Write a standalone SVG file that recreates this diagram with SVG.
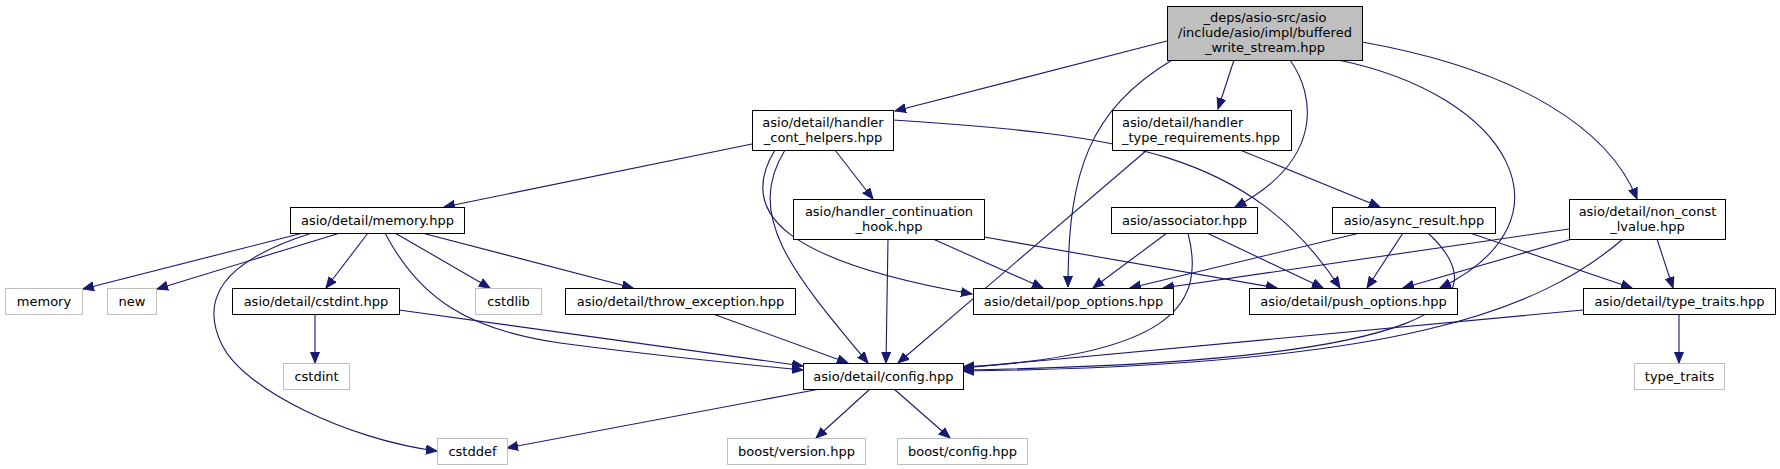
<svg xmlns="http://www.w3.org/2000/svg" width="1780" height="469" viewBox="0 0 1780 469">
<defs>
<style>
.n rect{fill:#ffffff;stroke:#000000;stroke-width:1}
.x rect{fill:#ffffff;stroke:#bfbfbf;stroke-width:1}
.m rect{fill:#bfbfbf;stroke:#000000;stroke-width:1}
text{font-family:"DejaVu Sans","Liberation Sans",sans-serif;font-size:13px;fill:#000000;text-anchor:middle}
.l{text-anchor:start}
#edges path{fill:none;stroke:#191970;stroke-width:1.1;marker-end:url(#a)}
</style>
<marker id="a" markerWidth="13" markerHeight="11" refX="11" refY="5" orient="auto" markerUnits="userSpaceOnUse"><path d="M0,0.5 L11,5 L0,9.5 z" fill="#191970" stroke="#191970" stroke-width="1"/></marker>
</defs>
<rect width="1780" height="469" fill="#ffffff"/>
<g id="edges">
<path d="M1167,41 L895,111"/>
<path d="M1172,60 C1090,110 1068,170 1068,287"/>
<path d="M1234,60 L1218,109"/>
<path d="M1290,60 C1315,95 1325,160 1235,207"/>
<path d="M1338,60 C1510,95 1580,220 1440,288"/>
<path d="M1362,42 C1520,70 1610,130 1637,199"/>
<path d="M752,144 L444,207"/>
<path d="M835,150 L873,199"/>
<path d="M785,150 C745,215 790,270 868,363"/>
<path d="M775,150 C735,215 790,262 972,294"/>
<path d="M893,120 C1120,135 1250,150 1340,288"/>
<path d="M1147,150 L898,363"/>
<path d="M1240,150 L1380,207"/>
<path d="M303,233 L83,289"/>
<path d="M340,233 L157,289"/>
<path d="M312,233 C220,262 200,300 222,345 C244,390 350,440 437,451"/>
<path d="M368,233 L326,288"/>
<path d="M385,233 C420,300 470,330 560,343 C650,355 730,363 803,370"/>
<path d="M395,233 L490,288"/>
<path d="M422,233 L633,288"/>
<path d="M315,314 L315,363"/>
<path d="M399,310 L803,366"/>
<path d="M713,314 L848,363"/>
<path d="M933,239 L1043,288"/>
<path d="M984,237 L1277,288"/>
<path d="M888,239 L886,363"/>
<path d="M1167,233 L1093,288"/>
<path d="M1207,233 L1323,288"/>
<path d="M1188,233 C1205,300 1180,355 963,367"/>
<path d="M1360,233 L1130,288"/>
<path d="M1403,233 L1367,288"/>
<path d="M1428,233 C1500,300 1450,362 963,370"/>
<path d="M1470,233 L1632,288"/>
<path d="M1569,229 L1163,288"/>
<path d="M1572,239 L1403,288"/>
<path d="M1623,239 C1540,310 1400,366 963,371"/>
<path d="M1657,239 L1673,288"/>
<path d="M1583,310 L963,368"/>
<path d="M1679,314 L1679,363"/>
<path d="M820,389 L507,448"/>
<path d="M870,389 L816,438"/>
<path d="M894,389 L950,438"/>
</g>
<g id="n_main" class="m"><rect x="1167.5" y="6.5" width="195" height="54"/><text x="1265" y="22">_deps/asio-src/asio</text><text x="1265" y="37">/include/asio/impl/buffered</text><text x="1265" y="52">_write_stream.hpp</text></g>
<g id="n_hch" class="n"><rect x="752.5" y="110.5" width="141" height="40"/><text x="823" y="126.5">asio/detail/handler</text><text x="823" y="141.5">_cont_helpers.hpp</text></g>
<g id="n_htr" class="n"><rect x="1112.5" y="110.5" width="179" height="40"/><text class="l" x="1122" y="126.5">asio/detail/handler</text><text class="l" x="1122" y="141.5">_type_requirements.hpp</text></g>
<g id="n_memory" class="n"><rect x="290.5" y="207.5" width="174" height="26"/><text x="377.5" y="225">asio/detail/memory.hpp</text></g>
<g id="n_hook" class="n"><rect x="793.5" y="199.5" width="191" height="40"/><text x="889" y="215.5">asio/handler_continuation</text><text x="889" y="230.5">_hook.hpp</text></g>
<g id="n_assoc" class="n"><rect x="1111.5" y="207.5" width="146" height="26"/><text x="1184.5" y="225">asio/associator.hpp</text></g>
<g id="n_async" class="n"><rect x="1332.5" y="207.5" width="163" height="26"/><text x="1414" y="225">asio/async_result.hpp</text></g>
<g id="n_ncl" class="n"><rect x="1569.5" y="199.5" width="156" height="40"/><text x="1647.5" y="215.5">asio/detail/non_const</text><text x="1647.5" y="230.5">_lvalue.hpp</text></g>
<g id="n_memleaf" class="x"><rect x="5.5" y="288.5" width="77" height="26"/><text x="44" y="306">memory</text></g>
<g id="n_new" class="x"><rect x="107.5" y="288.5" width="49" height="26"/><text x="132" y="306">new</text></g>
<g id="n_cstdinth" class="n"><rect x="232.5" y="288.5" width="167" height="26"/><text x="316" y="306">asio/detail/cstdint.hpp</text></g>
<g id="n_cstdlib" class="x"><rect x="475.5" y="288.5" width="66" height="26"/><text x="508.5" y="306">cstdlib</text></g>
<g id="n_throw" class="n"><rect x="565.5" y="288.5" width="230" height="26"/><text x="680.5" y="306">asio/detail/throw_exception.hpp</text></g>
<g id="n_pop" class="n"><rect x="973.5" y="288.5" width="200" height="26"/><text x="1073.5" y="306">asio/detail/pop_options.hpp</text></g>
<g id="n_push" class="n"><rect x="1249.5" y="288.5" width="208" height="26"/><text x="1353.5" y="306">asio/detail/push_options.hpp</text></g>
<g id="n_tth" class="n"><rect x="1583.5" y="288.5" width="192" height="26"/><text x="1679.5" y="306">asio/detail/type_traits.hpp</text></g>
<g id="n_cstdint" class="x"><rect x="283.5" y="363.5" width="66" height="26"/><text x="316.5" y="381">cstdint</text></g>
<g id="n_config" class="n"><rect x="803.5" y="363.5" width="160" height="26"/><text x="883.5" y="381">asio/detail/config.hpp</text></g>
<g id="n_tt" class="x"><rect x="1634.5" y="363.5" width="90" height="26"/><text x="1679.5" y="381">type_traits</text></g>
<g id="n_cstddef" class="x"><rect x="437.5" y="438.5" width="70" height="26"/><text x="472.5" y="456">cstddef</text></g>
<g id="n_bver" class="x"><rect x="727.5" y="438.5" width="138" height="26"/><text x="796.5" y="456">boost/version.hpp</text></g>
<g id="n_bcfg" class="x"><rect x="897.5" y="438.5" width="130" height="26"/><text x="962.5" y="456">boost/config.hpp</text></g>
</svg>
